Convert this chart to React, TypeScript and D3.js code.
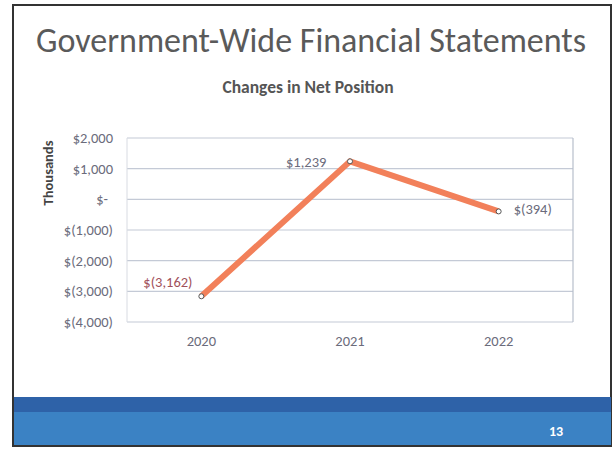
import React from 'react';
import * as d3 from 'd3';

const years = ['2020', '2021', '2022'];
const netChange = [-3162, 1239, -394];
const yTicks = [2000, 1000, 0, -1000, -2000, -3000, -4000];
const pointLabels = ['$(3,162)', '$1,239', '$(394)'];

const W = 615;
const H = 452;
const plot = { left: 127, right: 573, top: 138, bottom: 322 };

const fmtTick = (v: number) => {
  if (v === 0) return '$-';
  const s = d3.format(',')(Math.abs(v));
  return v < 0 ? `$(${s})` : `$${s}`;
};

const App: React.FC = () => {
  const x = d3.scaleBand<string>()
    .domain(years)
    .range([plot.left, plot.right])
    .padding(0);

  const y = d3.scaleLinear()
    .domain([-4000, 2000])
    .range([plot.bottom, plot.top]);

  const cx = (yr: string) => (x(yr) as number) + x.bandwidth() / 2;

  const line = d3.line<number>()
    .x((_, i) => cx(years[i]))
    .y(d => y(d));

  const font = 'Calibri, Carlito, "Open Sans", "Liberation Sans", sans-serif';
  const gray = '#6b6b7b';

  return (
    <svg width={W} height={H} style={{ position: 'absolute', left: 0, top: 0, background: '#fff' }}
      fontFamily={font}>
      {/* slide frame */}
      <rect x={13} y={5} width={598} height={441} fill="#fff" stroke="#333" strokeWidth={2} />

      <text x={311} y={52} textAnchor="middle" fontSize={34} fill="#5a5a5a">
        Government-Wide Financial Statements
      </text>
      <text x={308} y={93} textAnchor="middle" fontSize={17.5} fontWeight="bold" fill="#555">
        Changes in Net Position
      </text>

      {/* grid */}
      {yTicks.map(t => (
        <g key={t}>
          <line x1={plot.left} x2={plot.right} y1={y(t)} y2={y(t)} stroke="#c4cad6" strokeWidth={1.2} />
          <text x={t === 0 ? 108 : 113} y={y(t) + 5} textAnchor="end" fontSize={14.5} fill={gray}>{fmtTick(t)}</text>
        </g>
      ))}
      <line x1={plot.left} x2={plot.left} y1={plot.top} y2={plot.bottom} stroke="#d8dbe2" strokeWidth={1} />
      <line x1={plot.right} x2={plot.right} y1={plot.top} y2={plot.bottom} stroke="#b8bfcc" strokeWidth={1.2} />

      <text transform={`translate(53,173) rotate(-90)`} textAnchor="middle"
        fontSize={14.5} fontWeight="bold" fill="#444">Thousands</text>

      {years.map(yr => (
        <text key={yr} x={cx(yr)} y={346} textAnchor="middle" fontSize={14.5} fill={gray}>{yr}</text>
      ))}

      <path d={line(netChange) || ''} fill="none" stroke="#f2805a" strokeWidth={6} strokeLinejoin="miter" />
      {netChange.map((v, i) => (
        <circle key={i} cx={cx(years[i])} cy={y(v)} r={2.5} fill="#fff" stroke="#555" strokeWidth={1} />
      ))}

      <text x={cx(years[0]) - 58} y={y(netChange[0]) - 9} fontSize={14.5} fill="#a0505a">{pointLabels[0]}</text>
      <text x={cx(years[1]) - 64} y={y(netChange[1]) + 6} fontSize={14.5} fill={gray}>{pointLabels[1]}</text>
      <text x={cx(years[2]) + 15} y={y(netChange[2]) + 3} fontSize={14.5} fill={gray}>{pointLabels[2]}</text>

      {/* footer band */}
      <rect x={14} y={397} width={597} height={48} fill="#3b82c4" />
      <rect x={14} y={397} width={597} height={15} fill="#2e62a8" />
      <text x={556} y={436} textAnchor="middle" fontSize={14} fontWeight="bold" fill="#fff">13</text>
    </svg>
  );
};

export default App;
